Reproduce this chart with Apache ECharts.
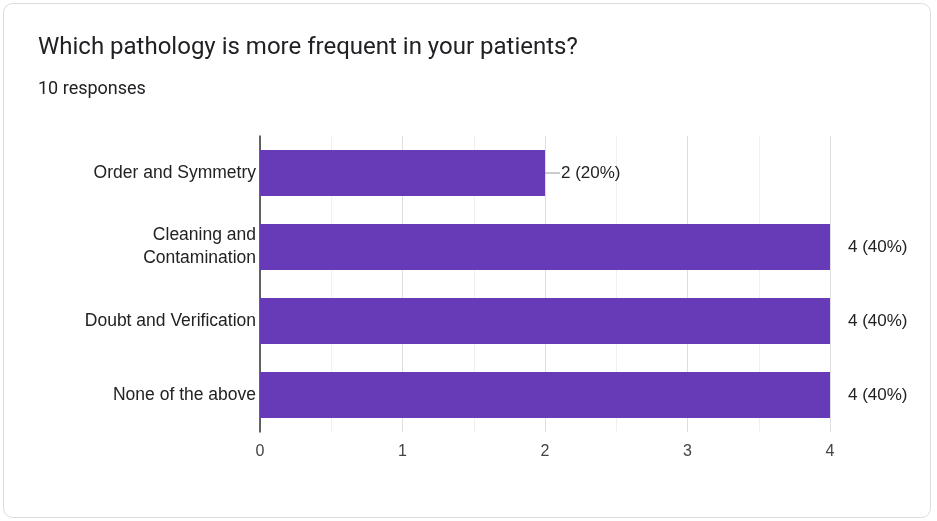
<!DOCTYPE html>
<html>
<head>
<meta charset="utf-8">
<script src="https://cdn.jsdelivr.net/npm/echarts@6/dist/echarts.min.js"></script>
<style>
html,body{margin:0;padding:0;background:#fff;}
#c{width:937px;height:521px;}
</style>
</head>
<body>
<div id="c"></div>
<script>
const titleText = 'Which pathology is more frequent in your patients?';
const subtitleText = '10 responses';
const categories = ['Order and Symmetry', 'Cleaning and\nContamination', 'Doubt and Verification', 'None of the above'];
const counts = [2, 4, 4, 4];
const percents = [20, 40, 40, 40];
const xTicks = [0, 1, 2, 3, 4];

const chart = echarts.init(document.getElementById('c'));
const data = counts.map((v, i) => {
  const short = v < 3;
  return {
    value: v,
    label: short ? {
      distance: 0,
      formatter: '{ln|}{sp|}' + v + ' (' + percents[i] + '%)'
    } : {
      distance: 18,
      formatter: v + ' (' + percents[i] + '%)'
    }
  };
});

chart.setOption({
  animation: false,
  graphic: [
    {type: 'rect', shape: {x: 3.5, y: 3.5, width: 927, height: 514, r: 9},
     style: {fill: '#fff', stroke: '#dcdcdc', lineWidth: 1}, z: -10},
    {type: 'text', left: 38, top: 36, style: {text: titleText, fontFamily: 'Roboto', fontSize: 24, fill: '#202124'}},
    {type: 'text', left: 38, top: 80, style: {text: subtitleText, fontFamily: 'Roboto', fontSize: 18, fill: '#202124'}}
  ],
  grid: {left: 260, right: 107, top: 136, bottom: 89, containLabel: false},
  xAxis: {
    type: 'value', min: xTicks[0], max: xTicks[xTicks.length - 1], interval: 1,
    axisLine: {show: false},
    axisTick: {show: false},
    axisLabel: {color: '#444', fontFamily: 'Liberation Sans', fontSize: 16, margin: 12},
    splitLine: {show: true, lineStyle: {color: '#dedede', width: 1}},
    minorTick: {show: false, splitNumber: 2},
    minorSplitLine: {show: true, lineStyle: {color: '#f0f0f0', width: 1}}
  },
  yAxis: {
    type: 'category', data: categories, inverse: true,
    axisLine: {show: true, lineStyle: {color: '#333', width: 1.5}},
    axisTick: {show: false},
    axisLabel: {color: '#222', fontFamily: 'Liberation Sans', fontSize: 17.5, margin: 4, lineHeight: 23, align: 'right'}
  },
  series: [{
    type: 'bar',
    data: data,
    barWidth: 46,
    itemStyle: {color: '#673ab7'},
    label: {
      show: true, position: 'right', color: '#222',
      fontFamily: 'Liberation Sans', fontSize: 17,
      rich: {ln: {width: 15, height: 1, backgroundColor: '#999', padding: 0}, sp: {width: 1}}
    }
  }]
});
</script>
</body>
</html>
